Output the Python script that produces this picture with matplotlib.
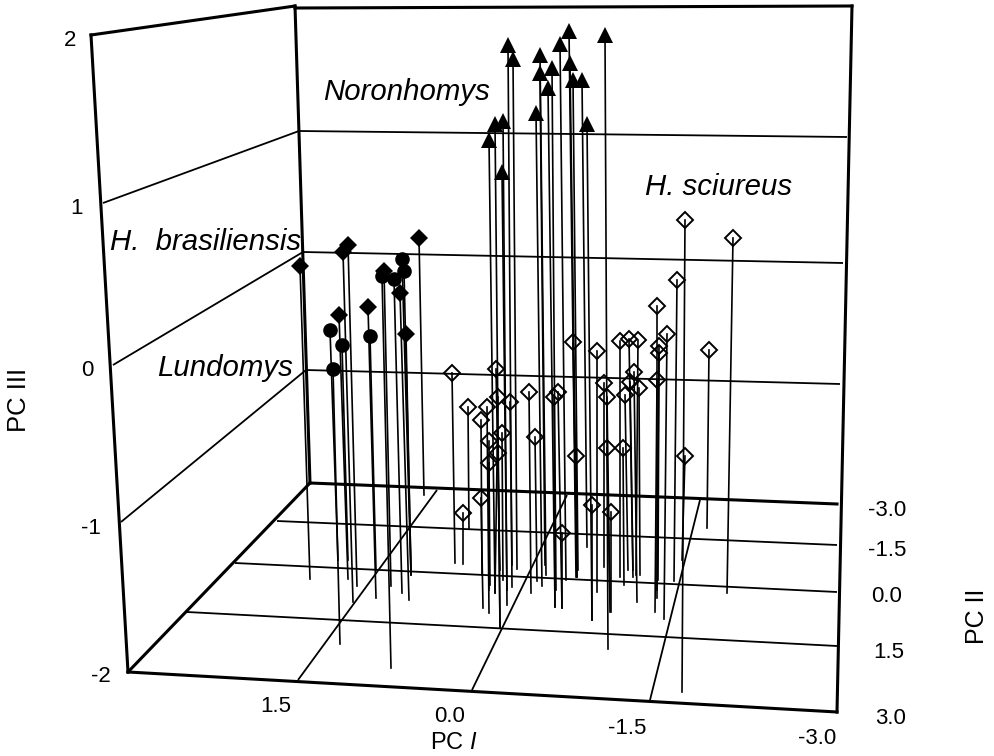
import matplotlib
matplotlib.use("Agg")
import matplotlib.pyplot as plt

plt.rcParams["font.family"] = ["Liberation Sans", "DejaVu Sans"]
plt.rcParams["mathtext.fontset"] = "custom"
plt.rcParams["mathtext.it"] = "Liberation Sans:italic"
plt.rcParams["mathtext.rm"] = "Liberation Sans"

# the source is a flattened 3D drawing, so values are read in its picture plane
# each species: top of the stem (x, y) and where the stem hits the floor (x, y)
noronhomys_x = [508, 513, 540, 540, 552, 548, 560, 569, 570, 573, 582, 605, 536, 587, 495, 503, 489, 502]
noronhomys_y = [45, 59, 55, 73, 68, 88, 44, 31, 63, 80, 80, 35, 113, 124, 124, 121, 140, 172]
noronhomys_fx = [512, 517, 546, 545, 556, 555, 566, 576, 577, 578, 587, 608, 542, 592, 500, 507, 495, 507]
noronhomys_fy = [587, 569, 575, 565, 590, 607, 580, 577, 577, 570, 547, 649, 586, 620, 627, 605, 593, 590]

brasiliensis_x = [300, 348, 343, 384, 419, 339, 368, 400, 406]
brasiliensis_y = [266, 245, 252, 271, 238, 315, 307, 293, 334]
brasiliensis_fx = [310, 357, 353, 391, 424, 348, 376, 409, 411]
brasiliensis_fy = [579, 586, 602, 586, 495, 579, 598, 600, 575]

lundomys_x = [330, 342, 370, 333, 382, 394, 404, 402]
lundomys_y = [330, 345, 336, 369, 276, 279, 271, 259]
lundomys_fx = [338, 348, 376, 340, 391, 402, 411, 411]
lundomys_fy = [560, 560, 570, 644, 668, 593, 570, 575]

sciureus_x = [452, 463, 468, 481, 481, 487, 489, 489, 496, 498, 498, 502, 510, 529, 535, 554, 558, 562,
              573, 576, 592, 597, 604, 607, 607, 611, 620, 623, 625, 629, 630, 634, 638, 639, 657, 657,
              659, 659, 667, 677, 685, 685, 709, 733]
sciureus_y = [373, 513, 407, 420, 498, 407, 441, 463, 369, 397, 453, 433, 402, 392, 437, 397, 392, 533,
              342, 456, 505, 351, 383, 397, 448, 512, 341, 448, 395, 339, 382, 372, 340, 388, 380, 306,
              346, 353, 334, 280, 220, 456, 350, 238]
sciureus_fx = [455, 463, 469, 482, 483, 489, 489, 490, 500, 495, 500, 503, 512, 531, 537, 555, 562, 562,
               577, 577, 592, 597, 604, 610, 610, 611, 620, 624, 628, 633, 633, 637, 636, 640, 655, 657,
               657, 658, 664, 674, 682, 682, 707, 727]
sciureus_fy = [563, 564, 529, 575, 608, 613, 590, 585, 570, 593, 627, 580, 565, 593, 581, 607, 608, 608,
               577, 570, 620, 592, 567, 612, 600, 612, 577, 585, 570, 577, 570, 602, 575, 575, 612, 598,
               590, 580, 619, 581, 692, 560, 528, 593]

pc3_ticks = ["2", "1", "0", "-1", "-2"]
pc3_tick_x = [70, 77, 87, 91, 101]
pc3_tick_y = [41, 209, 371, 528, 676]
pc1_ticks = ["1.5", "0.0", "-1.5", "-3.0"]
pc1_tick_x = [276, 450, 627, 817]
pc1_tick_y = [706, 717, 729, 739]
pc2_ticks = ["-3.0", "-1.5", "0.0", "1.5", "3.0"]
pc2_tick_x = [887, 887, 887, 889, 891]
pc2_tick_y = [510, 551, 597, 652, 718]

# box outline and grid: (x0, y0, x1, y1)
thick_lines = [
    (91, 35, 295, 6), (295, 8, 852, 6), (91, 35, 128, 672), (295, 6, 310, 483),
    (852, 6, 837, 712), (310, 483, 837, 504), (128, 672, 837, 712), (128, 672, 310, 483),
]
thin_lines = [
    (103, 203, 299, 131), (113, 365, 303, 252), (121, 522, 306, 370),
    (299, 131, 847, 137), (303, 252, 843, 263), (306, 370, 840, 384),
    (277, 521, 837, 545), (235, 563, 837, 592), (187, 612, 837, 646),
    (437, 490, 298, 680), (567, 495, 472, 690), (700, 500, 650, 700),
]

fig = plt.figure(figsize=(9.95, 7.56), dpi=100)
ax = fig.add_axes([0, 0, 1, 1])
ax.set_xlim(0, 995)
ax.set_ylim(756, 0)
ax.axis("off")

for x0, y0, x1, y1 in thin_lines:
    ax.plot([x0, x1], [y0, y1], color="black", lw=1.3, solid_capstyle="butt", zorder=1)
for x0, y0, x1, y1 in thick_lines:
    ax.plot([x0, x1], [y0, y1], color="black", lw=2.2, solid_capstyle="projecting", zorder=1)


def draw_species(xs, ys, fxs, fys, **marker):
    for x, y, fx, fy in zip(xs, ys, fxs, fys):
        ax.plot([x, fx], [y, fy], color="black", lw=1.2, zorder=2)
    ax.plot(xs, ys, linestyle="none", zorder=3, **marker)


draw_species(sciureus_x, sciureus_y, sciureus_fx, sciureus_fy,
             marker="D", ms=8.2, mfc="none", mec="black", mew=1.4)
draw_species(noronhomys_x, noronhomys_y, noronhomys_fx, noronhomys_fy,
             marker="^", ms=11, mfc="black", mec="black", mew=0)
draw_species(brasiliensis_x, brasiliensis_y, brasiliensis_fx, brasiliensis_fy,
             marker="D", ms=9.5, mfc="black", mec="black", mew=0)
draw_species(lundomys_x, lundomys_y, lundomys_fx, lundomys_fy,
             marker="o", ms=10.5, mfc="black", mec="black", mew=0)

for lab, x, y in zip(pc3_ticks, pc3_tick_x, pc3_tick_y):
    ax.text(x, y, lab, ha="center", va="center", fontsize=16)
for lab, x, y in zip(pc1_ticks, pc1_tick_x, pc1_tick_y):
    ax.text(x, y, lab, ha="center", va="center", fontsize=16)
for lab, x, y in zip(pc2_ticks, pc2_tick_x, pc2_tick_y):
    ax.text(x, y, lab, ha="center", va="center", fontsize=16)

ax.text(19, 400, "PC III", rotation=90, ha="center", va="center", fontsize=18.5)
ax.text(977, 616, "PC II", rotation=90, ha="center", va="center", fontsize=18)
ax.text(454, 743, r"PC $\mathit{I}$", ha="center", va="center", fontsize=17)

ax.text(323, 100, "Noronhomys", style="italic", fontsize=21.2, va="baseline")
ax.text(645, 195, "H. sciureus", style="italic", fontsize=21.2, va="baseline")
ax.text(110, 250, "H.  brasiliensis", style="italic", fontsize=21.2, va="baseline")
ax.text(157, 376, "Lundomys", style="italic", fontsize=21.2, va="baseline")

fig.savefig("out.png", dpi=100)
